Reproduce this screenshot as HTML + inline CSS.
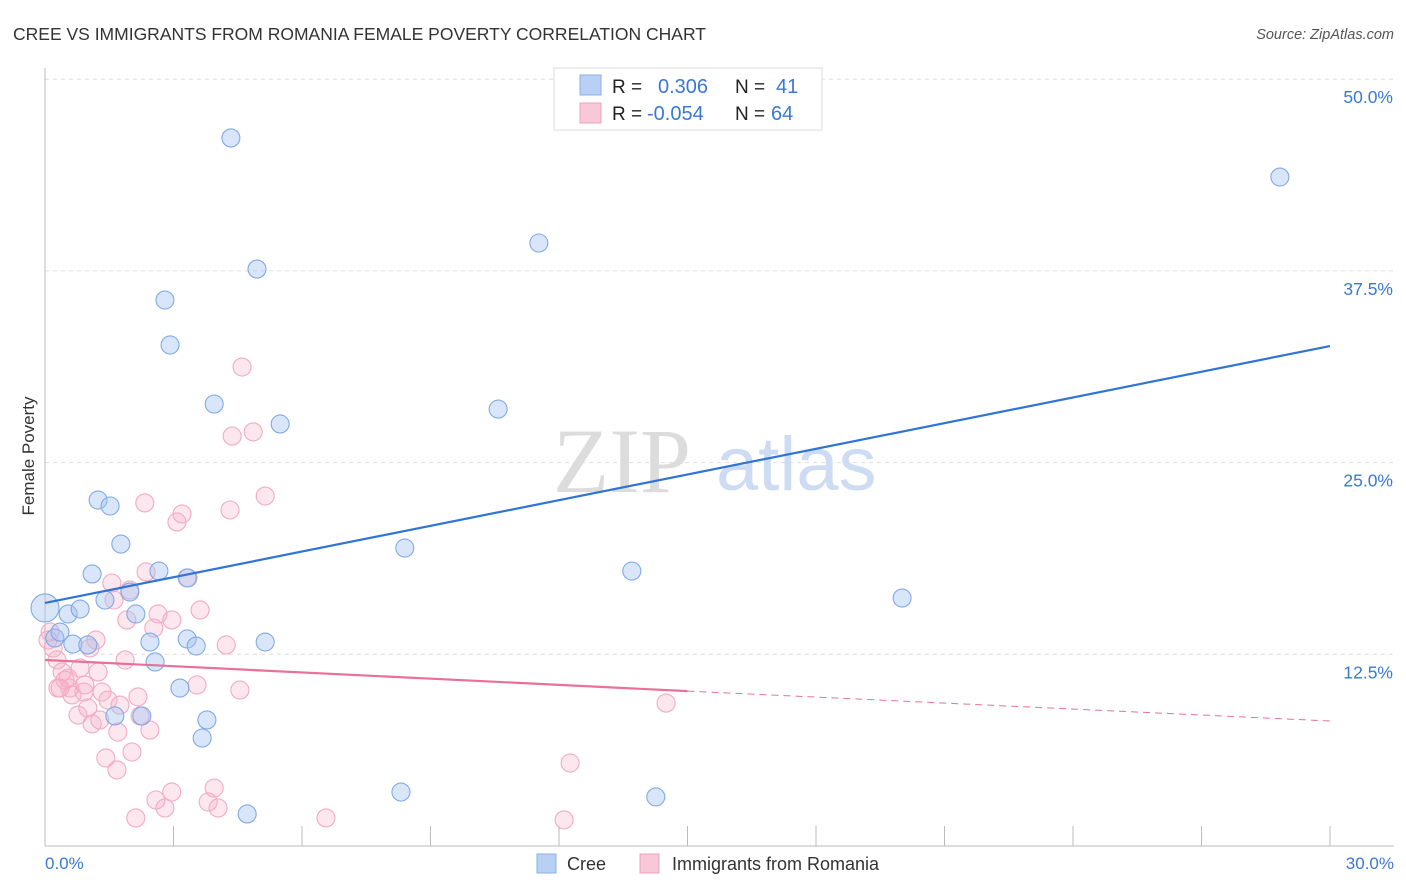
<!DOCTYPE html>
<html><head><meta charset="utf-8">
<style>
body{margin:0;background:#fff;font-family:"Liberation Sans",sans-serif;}
svg{display:block}
</style></head>
<body>
<svg id="chart" width="1406" height="892" xmlns="http://www.w3.org/2000/svg">
<text x="13" y="40" font-size="17.5" fill="#333">CREE VS IMMIGRANTS FROM ROMANIA FEMALE POVERTY CORRELATION CHART</text>
<text x="1394" y="39" font-size="14.5" fill="#555" font-style="italic" text-anchor="end">Source: ZipAtlas.com</text>
<text x="34" y="456" font-size="17" fill="#333" text-anchor="middle" transform="rotate(-90 34 456)">Female Poverty</text>
<g id="grid"></g>
<g>
<text x="553" y="492" font-size="92" fill="#dcdcdc" font-family="Liberation Serif,serif">ZIP</text>
<text x="716" y="490" font-size="76" fill="#cddcf2">atlas</text>
</g>
<line x1="45" y1="68" x2="45" y2="846" stroke="#bbb"/>
<line x1="45" y1="846" x2="1394" y2="846" stroke="#bbb"/>
<g id="xticks"></g>
<g id="ylabels"></g>
<g id="pinkpts"></g>
<g id="bluepts"></g>
<g id="trends"></g>
<text x="45" y="869" font-size="17" fill="#3a78d8">0.0%</text>
<text x="1394" y="869" font-size="17" fill="#3a78d8" text-anchor="end">30.0%</text>
<g>
<rect x="554" y="68" width="268" height="62" fill="#fff" stroke="#ddd"/>
<rect x="580" y="75" width="21" height="20" fill="#b8d0f4" stroke="#8ab0e8"/>
<rect x="580" y="103" width="21" height="20" fill="#f9c8d8" stroke="#eca0ba"/>
<text x="612" y="93" font-size="19" fill="#222">R =</text>
<text x="658" y="93" font-size="20" fill="#3a78d8">0.306</text>
<text x="735" y="93" font-size="19" fill="#222">N =</text>
<text x="776" y="93" font-size="20" fill="#3a78d8">41</text>
<text x="612" y="120" font-size="19" fill="#222">R =</text>
<text x="647" y="120" font-size="20" fill="#3a78d8">-0.054</text>
<text x="735" y="120" font-size="19" fill="#222">N =</text>
<text x="771" y="120" font-size="20" fill="#3a78d8">64</text>
</g>
<g>
<rect x="537" y="854" width="19" height="19" fill="#b8d0f4" stroke="#8ab0e8"/>
<text x="567" y="870" font-size="18" fill="#333">Cree</text>
<rect x="640" y="854" width="19" height="19" fill="#f9c8d8" stroke="#eca0ba"/>
<text x="672" y="870" font-size="18" fill="#333">Immigrants from Romania</text>
</g>
</svg>
<script>
const yTicks=[12.5,25,37.5,50];
const yTickLabels=["12.5%","25.0%","37.5%","50.0%"];
const xTicks=[0,3,6,9,12,15,18,21,24,27,30];
const creeX=[0,0.23,0.35,0.54,0.82,0.65,1.00,1.10,1.24,1.52,1.40,1.77,1.98,2.12,2.45,2.57,2.66,2.80,2.92,3.15,3.32,3.32,3.53,3.78,3.67,3.95,4.34,4.95,5.49,5.14,4.72,2.26,1.63,8.40,8.31,10.58,11.53,13.70,14.26,20.01,28.83];
const creeY=[15.52,13.56,13.95,15.13,15.45,13.17,13.11,17.74,22.56,22.17,16.04,19.69,16.56,15.13,13.30,12.00,17.93,35.60,32.67,10.30,17.48,13.50,13.04,8.22,7.04,28.82,46.17,37.62,27.52,13.30,2.09,8.48,8.48,19.43,3.52,28.49,39.32,17.93,3.20,16.17,43.62];
const romX=[0.12,0.19,0.28,0.40,0.30,0.47,0.58,0.63,0.54,0.77,0.82,0.91,1.00,1.05,1.19,1.24,1.33,1.10,1.28,1.47,1.56,1.61,1.75,1.70,1.87,1.91,1.98,2.03,1.42,1.68,2.17,2.22,2.33,2.36,2.45,2.54,2.64,2.59,2.12,2.80,2.96,2.96,3.08,3.20,3.34,3.55,3.62,3.81,3.95,4.04,4.23,4.32,4.37,4.55,4.60,4.86,5.14,6.56,12.12,12.26,14.50,0.07,0.35,0.93];
const romY=[13.95,12.91,12.13,11.35,10.30,10.82,10.30,9.85,10.95,8.54,11.61,10.04,9.00,12.91,13.43,11.35,10.04,7.96,8.22,9.52,17.15,16.04,9.19,7.43,12.13,14.74,16.69,6.13,5.74,4.96,9.72,8.48,22.37,17.87,7.56,14.21,15.13,3.00,1.83,2.48,14.74,3.52,21.13,21.65,17.48,10.50,15.39,2.87,3.78,2.48,13.11,21.91,26.73,10.17,31.23,27.00,22.82,1.83,1.70,5.41,9.32,13.43,10.30,10.50];
const creeTrendX=[0,30];
const creeTrendY=[15.85,32.6];
const romTrendX=[0,15,30];
const romTrendY=[12.13,10.1,8.15];

const NS="http://www.w3.org/2000/svg";
const sx=v=>45+v/30*1285;
const sy=v=>846-v/12.5*191.7;
function mk(tag,attrs,parent){const e=document.createElementNS(NS,tag);for(const k in attrs)e.setAttribute(k,attrs[k]);parent.appendChild(e);return e;}
const grid=document.getElementById('grid'),yl=document.getElementById('ylabels'),xt=document.getElementById('xticks');
yTicks.forEach((t,i)=>{
  const l=mk('line',{x1:45,x2:1394,y1:sy(t),y2:sy(t),stroke:'#ddd','stroke-dasharray':'4,4'},grid);
  
  
  const tx=mk('text',{x:1393,y:sy(t)+24,'font-size':17.5,fill:'#3a78d8','text-anchor':'end'},yl);
  tx.textContent=yTickLabels[i];
  
  
});
xTicks.forEach(t=>{
  const l=mk('line',{x1:sx(t),x2:sx(t),y1:826,y2:846,stroke:'#bbb'},xt);
  
  
});
const bp=document.getElementById('bluepts'),pp=document.getElementById('pinkpts');
romX.forEach((x,i)=>{
  const c=mk('circle',{cx:sx(x),cy:sy(romY[i]),r:9,fill:'rgba(245,175,200,0.3)',stroke:'#f2aac3','stroke-width':1.1},pp);
  
  
});
creeX.forEach((x,i)=>{
  const c=mk('circle',{cx:sx(x),cy:sy(creeY[i]),r:i===0?14:9,fill:'rgba(165,196,240,0.42)',stroke:'#80aae6','stroke-width':1.1},bp);
  
  
});
const tr=document.getElementById('trends');
const b=mk('line',{x1:sx(creeTrendX[0]),y1:sy(creeTrendY[0]),x2:sx(creeTrendX[1]),y2:sy(creeTrendY[1]),stroke:'#2f74d6','stroke-width':2.2},tr);


const p1=mk('line',{x1:sx(romTrendX[0]),y1:sy(romTrendY[0]),x2:sx(romTrendX[1]),y2:sy(romTrendY[1]),stroke:'#e8709a','stroke-width':2.2},tr);


const p2=mk('line',{x1:sx(romTrendX[1]),y1:sy(romTrendY[1]),x2:sx(romTrendX[2]),y2:sy(romTrendY[2]),stroke:'#e8709a','stroke-width':1,'stroke-dasharray':'7,5'},tr);


</script>
</body></html>
